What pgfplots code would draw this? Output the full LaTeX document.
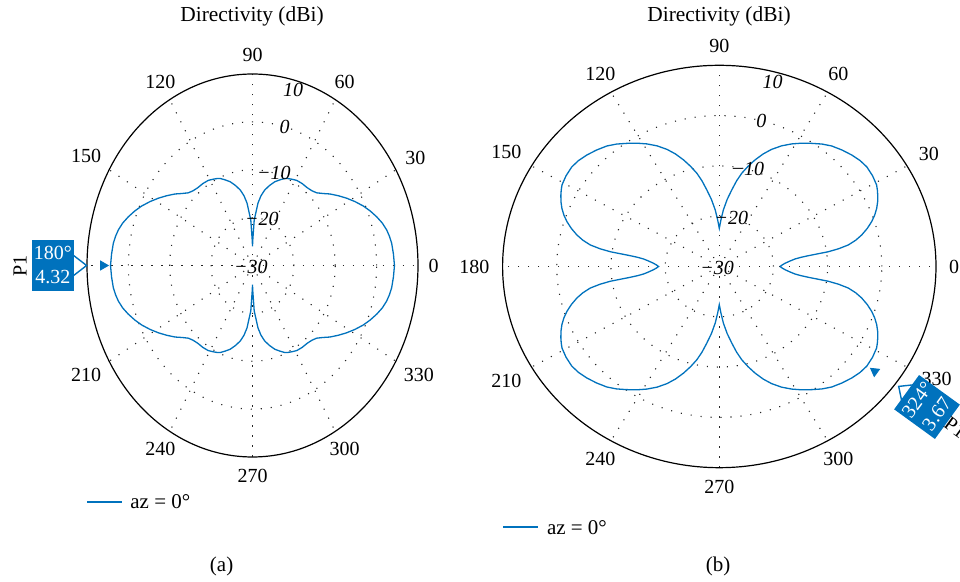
\documentclass[border=0pt]{standalone}
\usepackage{fontspec}
\setmainfont{Liberation Serif}
\usepackage{pgfplots}
\pgfplotsset{compat=1.18}
\usepackage{pgfplotstable}
\definecolor{mblue}{RGB}{0,114,189}
\tikzset{griddot/.style={line width=0.55pt, dash pattern=on 0.55pt off 4.45pt, black!85},
  outer/.style={line width=0.6pt, black}}

\pgfplotstableread{
a v
0 4.32
0.8 4.27
4 4.15
7.85 3.96
10.5 3.65
12.9 3.27
15.8 2.6
18.7 1.70
21.8 0.65
24.9 -0.48
28.3 -1.85
31.7 -3.25
35.1 -4.65
38.6 -6.05
41.5 -7.3
44.4 -8.3
47.5 -8.8
50.9 -9.05
55 -9.1
58.9 -9.25
62 -9.6
64.6 -9.9
66.9 -10.25
69.6 -10.9
72.9 -11.7
76.2 -12.8
79.4 -13.96
82 -15.3
84.2 -16.9
87.5 -20.5
89.5 -25
90 -26
90.5 -25
92.5 -20.5
95.8 -16.9
98 -15.3
100.6 -13.96
103.8 -12.8
107.1 -11.7
110.4 -10.9
113.1 -10.25
115.4 -9.9
118 -9.6
121.1 -9.25
125 -9.1
129.1 -9.05
132.5 -8.8
135.6 -8.3
138.5 -7.3
141.4 -6.05
144.9 -4.65
148.3 -3.25
151.7 -1.85
155.1 -0.48
158.2 0.65
161.3 1.70
164.2 2.6
167.1 3.27
169.5 3.65
172.15 3.96
176 4.15
179.2 4.27
180 4.32
180.8 4.27
184 4.15
187.85 3.96
190.5 3.65
192.9 3.27
195.8 2.6
198.7 1.70
201.8 0.65
204.9 -0.48
208.3 -1.85
211.7 -3.25
215.1 -4.65
218.6 -6.05
221.5 -7.3
224.4 -8.3
227.5 -8.8
230.9 -9.05
235 -9.1
238.9 -9.25
242 -9.6
244.6 -9.9
246.9 -10.25
249.6 -10.9
252.9 -11.7
256.2 -12.8
259.4 -13.96
262 -15.3
264.2 -16.9
267.5 -20.5
269.5 -25
270 -26
270.5 -25
272.5 -20.5
275.8 -16.9
278 -15.3
280.6 -13.96
283.8 -12.8
287.1 -11.7
290.4 -10.9
293.1 -10.25
295.4 -9.9
298 -9.6
301.1 -9.25
305 -9.1
309.1 -9.05
312.5 -8.8
315.6 -8.3
318.5 -7.3
321.4 -6.05
324.9 -4.65
328.3 -3.25
331.7 -1.85
335.1 -0.48
338.2 0.65
341.3 1.70
344.2 2.6
347.1 3.27
349.5 3.65
352.15 3.96
356 4.15
359.2 4.27
360 4.32
}\leftdata

\pgfplotstableread{
a v
0 -18.8
1.5 -18.4
3 -17.85
4.6 -17.0
6.1 -15.95
6.9 -14.8
7.45 -13.4
7.9 -11.6
8.3 -9.67
9.1 -7.7
10.2 -5.8
11.7 -4.3
13.4 -2.98
15.5 -1.65
17.6 -0.49
19.6 0.45
21.7 1.27
23.8 1.95
25.9 2.51
27.5 2.9
29.2 3.26
32.5 3.55
36 3.67
39 3.45
42.2 3.0
45.6 2.4
49.1 1.7
52.1 0.85
55.1 -0.15
58.2 -1.15
61.25 -2.2
64.4 -3.4
67.5 -4.8
70.1 -6.2
72.7 -7.8
75.1 -9.4
77.4 -11.0
79.4 -12.7
81.4 -14.6
83.8 -16.6
86.2 -18.75
88.2 -20.8
90 -22.4
91.8 -20.8
93.8 -18.75
96.2 -16.6
98.6 -14.6
100.6 -12.7
102.6 -11.0
104.9 -9.4
107.3 -7.8
109.9 -6.2
112.5 -4.8
115.6 -3.4
118.75 -2.2
121.8 -1.15
124.9 -0.15
127.9 0.85
130.9 1.7
134.4 2.4
137.8 3.0
141 3.45
144 3.67
147.5 3.55
150.8 3.26
152.5 2.9
154.1 2.51
156.2 1.95
158.3 1.27
160.4 0.45
162.4 -0.49
164.5 -1.65
166.6 -2.98
168.3 -4.3
169.8 -5.8
170.9 -7.7
171.7 -9.67
172.1 -11.6
172.55 -13.4
173.1 -14.8
173.9 -15.95
175.4 -17.0
177 -17.85
178.5 -18.4
180 -18.8
181.5 -18.4
183 -17.85
184.6 -17.0
186.1 -15.95
186.9 -14.8
187.45 -13.4
187.9 -11.6
188.3 -9.67
189.1 -7.7
190.2 -5.8
191.7 -4.3
193.4 -2.98
195.5 -1.65
197.6 -0.49
199.6 0.45
201.7 1.27
203.8 1.95
205.9 2.51
207.5 2.9
209.2 3.26
212.5 3.55
216 3.67
219 3.45
222.2 3.0
225.6 2.4
229.1 1.7
232.1 0.85
235.1 -0.15
238.2 -1.15
241.25 -2.2
244.4 -3.4
247.5 -4.8
250.1 -6.2
252.7 -7.8
255.1 -9.4
257.4 -11.0
259.4 -12.7
261.4 -14.6
263.8 -16.6
266.2 -18.75
268.2 -20.8
270 -22.4
271.8 -20.8
273.8 -18.75
276.2 -16.6
278.6 -14.6
280.6 -12.7
282.6 -11.0
284.9 -9.4
287.3 -7.8
289.9 -6.2
292.5 -4.8
295.6 -3.4
298.75 -2.2
301.8 -1.15
304.9 -0.15
307.9 0.85
310.9 1.7
314.4 2.4
317.8 3.0
321 3.45
324 3.67
327.5 3.55
330.8 3.26
332.5 2.9
334.1 2.51
336.2 1.95
338.3 1.27
340.4 0.45
342.4 -0.49
344.5 -1.65
346.6 -2.98
348.3 -4.3
349.8 -5.8
350.9 -7.7
351.7 -9.67
352.1 -11.6
352.55 -13.4
353.1 -14.8
353.9 -15.95
355.4 -17.0
357 -17.85
358.5 -18.4
360 -18.8
}\rightdata

\begin{document}
\fontsize{10}{12}\selectfont
\begin{tikzpicture}
\useasboundingbox (0pt,0pt) rectangle (480pt,-291pt);

% legend key lines (drawn first, as filled strips)
\fill[mblue] (43.5pt,-251.35pt) rectangle (61pt,-250.65pt);
\fill[mblue] (251.4pt,-263.95pt) rectangle (268.9pt,-263.25pt);

% ---------------- (a) ----------------
\begin{axis}[at={(126.25pt,-132.75pt)}, anchor=center, scale only axis,
  width=165.5pt, height=191.5pt, xmin=-40, xmax=40, ymin=-40, ymax=40,
  axis lines=none, clip=false]
\pgfplotsinvokeforeach{0,30,...,330}{\draw[griddot] (0,0) -- ({40*cos(#1)},{40*sin(#1)});}
\draw[griddot] (0,0) circle[radius=10];
\draw[griddot] (0,0) circle[radius=20];
\draw[griddot] (0,0) circle[radius=30];
\draw[outer] (0,0) circle[radius=40];
\addplot[draw=mblue, line width=0.65pt] table[x expr={(\thisrow{v}+30)*cos(\thisrow{a})}, y expr={(\thisrow{v}+30)*sin(\thisrow{a})}] {\leftdata};
\addplot[only marks, mark=triangle*, mark size=2.6pt, draw=mblue, fill=mblue, mark options={rotate=-90}, forget plot]
  table[x expr={(\thisrow{v}+31.8)*cos(\thisrow{a})}, y expr={(\thisrow{v}+31.8)*sin(\thisrow{a})}] {
a v
180 4.32
};
\node[font=\itshape, inner sep=0pt] at ({-0.4},{-0.3}) {−30};
\node[font=\itshape, inner sep=0pt] at ({10*cos(77)},{10*sin(77)}) {−20};
\node[font=\itshape, inner sep=0pt] at ({20*cos(75)},{20*sin(75)}) {−10};
\node[font=\itshape, inner sep=0pt] at ({30*cos(75)},{30*sin(75)}) {0};
\node[font=\itshape, inner sep=0pt] at ({38*cos(75)},{38*sin(75)}) {10};
\node[inner sep=1pt, anchor=180] at ({42*cos(0)},{42*sin(0)}) {0};
\node[inner sep=1pt, anchor=210] at ({42*cos(30)},{42*sin(30)}) {30};
\node[inner sep=1pt, anchor=240] at ({42*cos(60)},{42*sin(60)}) {60};
\node[inner sep=1pt, anchor=270] at ({42*cos(90)},{42*sin(90)}) {90};
\node[inner sep=1pt, anchor=300] at ({42*cos(120)},{42*sin(120)}) {120};
\node[inner sep=1pt, anchor=330] at ({42*cos(150)},{42*sin(150)}) {150};
\node[inner sep=1pt, anchor=30] at ({42*cos(210)},{42*sin(210)}) {210};
\node[inner sep=1pt, anchor=60] at ({42*cos(240)},{42*sin(240)}) {240};
\node[inner sep=1pt, anchor=90] at ({42*cos(270)},{42*sin(270)}) {270};
\node[inner sep=1pt, anchor=120] at ({42*cos(300)},{42*sin(300)}) {300};
\node[inner sep=1pt, anchor=150] at ({42*cos(330)},{42*sin(330)}) {330};
\end{axis}

% ---------------- (b) ----------------
\begin{axis}[at={(359.65pt,-133.25pt)}, anchor=center, scale only axis,
  width=216.7pt, height=201.2pt, xmin=-40, xmax=40, ymin=-40, ymax=40,
  axis lines=none, clip=false]
\pgfplotsinvokeforeach{0,30,...,330}{\draw[griddot] (0,0) -- ({40*cos(#1)},{40*sin(#1)});}
\draw[griddot] (0,0) circle[radius=10];
\draw[griddot] (0,0) circle[radius=20];
\draw[griddot] (0,0) circle[radius=30];
\draw[outer] (0,0) circle[radius=40];
\addplot[draw=mblue, line width=0.65pt] table[x expr={(\thisrow{v}+30)*cos(\thisrow{a})}, y expr={(\thisrow{v}+30)*sin(\thisrow{a})}] {\rightdata};
\addplot[only marks, mark=triangle*, mark size=2.6pt, draw=mblue, fill=mblue, mark options={rotate=54}, forget plot]
  table[x expr={(\thisrow{v}+31.8)*cos(\thisrow{a})}, y expr={(\thisrow{v}+31.8)*sin(\thisrow{a})}] {
a v
324 3.67
};
\node[font=\itshape, inner sep=0pt] at ({-0.4},{-0.3}) {−30};
\node[font=\itshape, inner sep=0pt] at ({10*cos(77)},{10*sin(77)}) {−20};
\node[font=\itshape, inner sep=0pt] at ({20*cos(75)},{20*sin(75)}) {−10};
\node[font=\itshape, inner sep=0pt] at ({30*cos(75)},{30*sin(75)}) {0};
\node[font=\itshape, inner sep=0pt] at ({38*cos(75)},{38*sin(75)}) {10};
\node[inner sep=1pt, anchor=180] at ({42*cos(0)},{42*sin(0)}) {0};
\node[inner sep=1pt, anchor=210] at ({42*cos(30)},{42*sin(30)}) {30};
\node[inner sep=1pt, anchor=240] at ({42*cos(60)},{42*sin(60)}) {60};
\node[inner sep=1pt, anchor=270] at ({42*cos(90)},{42*sin(90)}) {90};
\node[inner sep=1pt, anchor=300] at ({42*cos(120)},{42*sin(120)}) {120};
\node[inner sep=1pt, anchor=330] at ({42*cos(150)},{42*sin(150)}) {150};
\node[inner sep=1pt, anchor=0] at ({42*cos(180)},{42*sin(180)}) {180};
\node[inner sep=1pt, anchor=30] at ({42*cos(210)},{42*sin(210)}) {210};
\node[inner sep=1pt, anchor=60] at ({42*cos(240)},{42*sin(240)}) {240};
\node[inner sep=1pt, anchor=90] at ({42*cos(270)},{42*sin(270)}) {270};
\node[inner sep=1pt, anchor=120] at ({42*cos(300)},{42*sin(300)}) {300};
\node[inner sep=1pt, anchor=150] at ({42.5*cos(331)},{42.5*sin(331)}) {330};
\end{axis}

% legend labels
\node[anchor=west, inner sep=0pt, font=\fontsize{10.5}{12}\selectfont] at (65pt,-251pt) {az = 0°};
\node[anchor=west, inner sep=0pt, font=\fontsize{10.5}{12}\selectfont] at (273.3pt,-263.6pt) {az = 0°};

% titles and captions
\node[font=\fontsize{10.7}{13}\selectfont] at (126pt,-8pt) {Directivity (dBi)};
\node[font=\fontsize{10.7}{13}\selectfont] at (359.5pt,-8pt) {Directivity (dBi)};
\node[font=\fontsize{10.5}{12}\selectfont] at (110.8pt,-283pt) {(a)};
\node[font=\fontsize{10.5}{12}\selectfont] at (359pt,-283pt) {(b)};

% data tip (a)
\filldraw[fill=white, draw=mblue, line width=0.7pt] (36.5pt,-127.5pt) -- (43.3pt,-132.75pt) -- (36.5pt,-138pt);
\fill[mblue] (15.85pt,-120pt) rectangle (37pt,-145.35pt);
\node[white, inner sep=0pt] at (26.4pt,-126.7pt) {180°};
\node[white, inner sep=0pt] at (26.4pt,-138.7pt) {4.32};
\node[rotate=90, inner sep=0pt] at (10pt,-133pt) {P1};

% data tip (b)
\begin{scope}[shift={(463.5pt,-203.5pt)}, rotate=54]
\filldraw[fill=white, draw=mblue, line width=0.7pt] (-5pt,12pt) -- (0pt,17.5pt) -- (5pt,12pt);
\fill[mblue] (-10.6pt,-12.6pt) rectangle (10.6pt,12.6pt);
\node[white, inner sep=0pt, rotate=54] at (0pt,6pt) {324°};
\node[white, inner sep=0pt, rotate=54] at (0pt,-6pt) {3.67};
\node[inner sep=0pt, rotate=-36] at (0pt,-17.5pt) {P1};
\end{scope}
\end{tikzpicture}
\end{document}
